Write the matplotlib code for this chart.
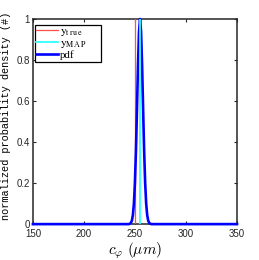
import matplotlib.pyplot as plt

# values
y_true = 250.0
y_map = 255.0
pdf_x = [150, 244, 245, 246, 247, 248, 249, 250, 251, 252, 253, 254, 255,
         256, 257, 258, 259, 260, 261, 262, 263, 264, 265, 266, 350]
pdf_y = [0.0, 0.0, 0.002, 0.006, 0.017, 0.044, 0.101, 0.203, 0.36, 0.563, 0.775, 0.938, 1.0,
         0.938, 0.775, 0.563, 0.36, 0.203, 0.101, 0.044, 0.017, 0.006, 0.002, 0.0, 0.0]
xticks = [150, 200, 250, 300, 350]
yticks = [0, 0.2, 0.4, 0.6, 0.8, 1]
ytick_labels = ['0', '0.2', '0.4', '0.6', '0.8', '1']

plt.rcParams['font.family'] = ['Liberation Sans', 'DejaVu Sans']
plt.rcParams['mathtext.fontset'] = 'stix'

fig = plt.figure(figsize=(2.59, 2.60), dpi=100)
ax = fig.add_axes([0.127, 0.138, 0.788, 0.789])

ax.plot([y_true, y_true], [0, 1], color='#ff5050', linewidth=0.9,
        label=r'$\mathrm{y}_{\mathrm{t\,r\,u\,e}}$', zorder=3)
ax.plot([y_map, y_map], [0, 1], color='#33ffff', linewidth=1.3,
        label=r'$\mathrm{y}_{\mathrm{M\,A\,P}}$', zorder=4)
ax.plot(pdf_x, pdf_y, color='#0000ff', linewidth=1.9, label='pdf',
        zorder=3.5, clip_on=False)

ax.set_xlim(150, 350)
ax.set_ylim(0, 1)
ax.set_xticks(xticks)
ax.set_yticks(yticks)
ax.set_yticklabels(ytick_labels)
ax.tick_params(direction='in', length=2.5, width=0.8, labelsize=7,
               top=True, right=True, colors='#262626', labelcolor='#262626', pad=2)
ax.tick_params(axis='x', pad=3.5)
for s in ax.spines.values():
    s.set_linewidth(1.1)
    s.set_color('#262626')

ax.set_xlabel(r'$c_{\varphi}\ (\mu m)$', fontsize=11, labelpad=1, math_fontfamily='cm')
ax.set_ylabel('normalized probability density (#)', fontsize=7.4,
              family='Liberation Mono')
ax.yaxis.set_label_coords(-0.105, 0.53)

leg = ax.legend(loc='upper left', bbox_to_anchor=(0.01, 0.795, 0.324, 0.176),
                mode='expand', borderaxespad=0, fancybox=False, framealpha=1,
                edgecolor='black', handlelength=1.9, handletextpad=0.2,
                borderpad=0.12, labelspacing=0.0,
                prop={'family': 'Liberation Serif', 'size': 8.2})
leg.get_texts()[2].set_fontsize(7.8)
leg.get_frame().set_linewidth(0.9)

plt.savefig('out.png', dpi=100)
